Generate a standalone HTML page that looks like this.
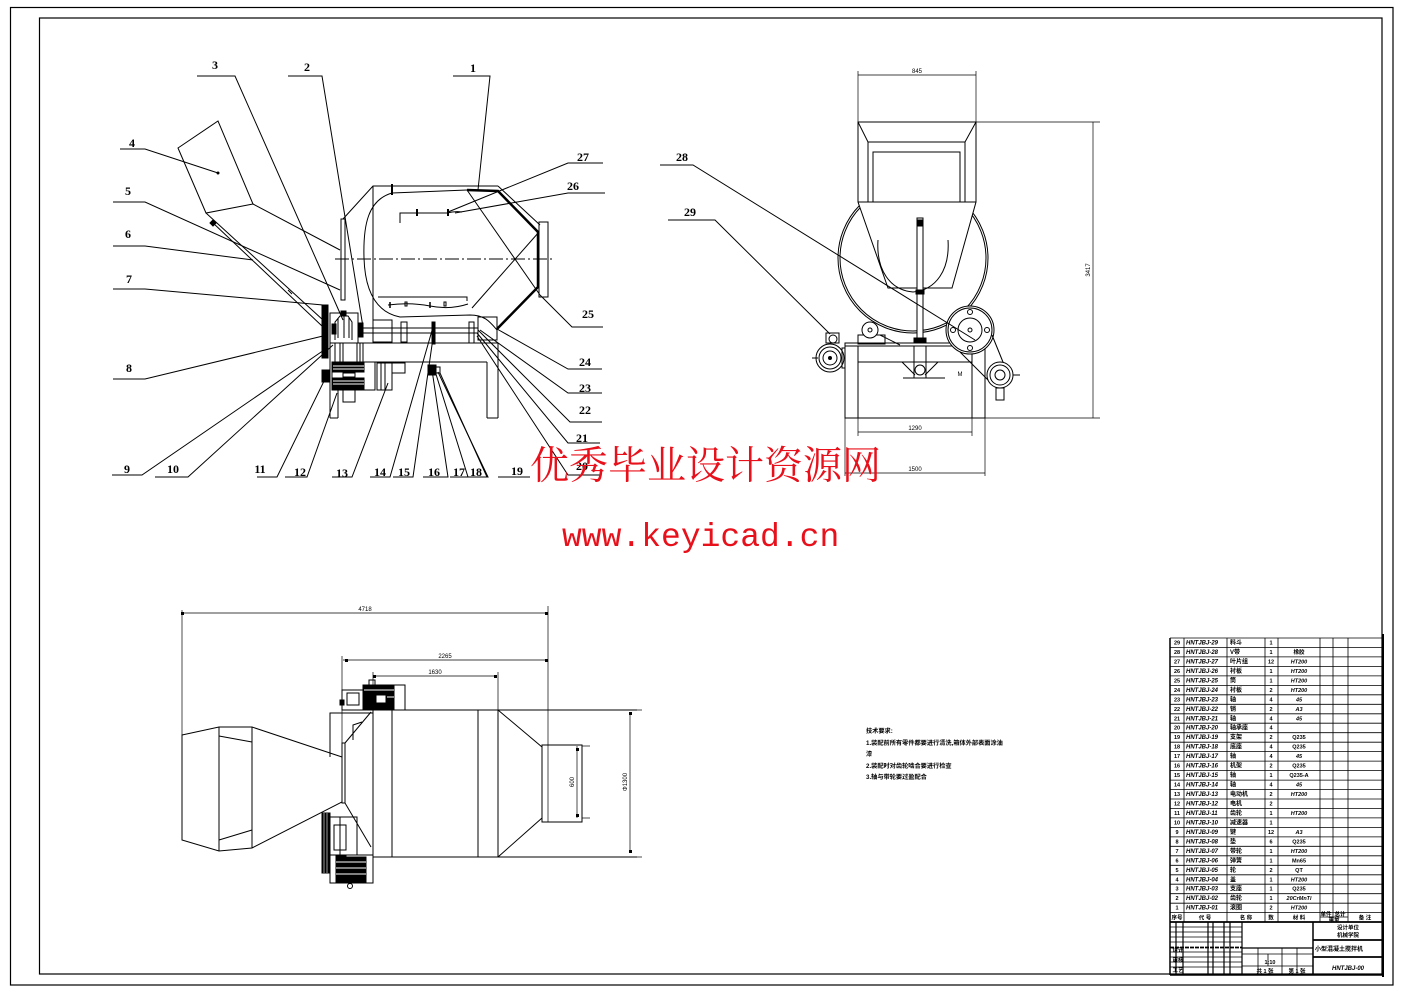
<!DOCTYPE html>
<html><head><meta charset="utf-8"><style>
html,body{margin:0;padding:0;background:#fff;}
svg{display:block;}
.n{font-family:"Liberation Serif",serif;font-weight:bold;font-size:12px;fill:#000;stroke:none;text-anchor:middle;}
.d{font-family:"Liberation Sans",sans-serif;font-size:6px;fill:#000;stroke:none;text-anchor:middle;}
.t{font-family:"Liberation Sans","Noto Sans CJK SC",sans-serif;font-weight:bold;font-size:6px;fill:#000;stroke:none;}
.tc{font-family:"Liberation Sans","Noto Sans CJK SC",sans-serif;font-weight:bold;font-size:5.5px;fill:#000;stroke:none;text-anchor:middle;}
.tn{font-family:"Liberation Sans","Noto Sans CJK SC",sans-serif;font-weight:bold;font-size:6.2px;fill:#000;stroke:none;}
</style></head><body>
<svg width="1403" height="992" viewBox="0 0 1403 992" xmlns="http://www.w3.org/2000/svg">
<rect width="1403" height="992" fill="#fff"/>
<!-- borders -->
<rect x="10.5" y="7.5" width="1382.5" height="977.5" fill="none" stroke="#000" stroke-width="1.2"/>
<rect x="39.5" y="18" width="1342.5" height="956" fill="none" stroke="#000" stroke-width="1.2"/>

<!-- ================= TOP LEFT VIEW ================= -->
<g stroke="#000" fill="none" stroke-width="1">
<!-- leaders -->
<polyline points="197,76 235,76 343,320"/>
<polyline points="288,76 322,76 363,327"/>
<polyline points="453,76 490,76 478,190"/>
<polyline points="120,149 145,149 218,173"/>
<polyline points="113,202 145,202 340,290"/>
<polyline points="113,246 145,246 253,260"/>
<polyline points="113,289 145,289 323,305"/>
<polyline points="113,379 145,379 323,336"/>
<polyline points="112,475 142,475 327,348"/>
<polyline points="155,477 188,477 333,345"/>
<polyline points="257,477 277,477 327,375"/>
<polyline points="285,477 307,477 337,393"/>
<polyline points="332,477 352,477 388,383"/>
<polyline points="370,477 390,477 433,327"/>
<polyline points="393,477 413,477 433,338"/>
<polyline points="423,477 448,477 432,370"/>
<polyline points="450,477 468,477 435,371"/>
<polyline points="468,477 488,477 438,372"/>
<polyline points="498,477 530,477"/>
<line x1="487" y1="477" x2="440" y2="373"/>
<polyline points="600,475 568,475 477,336"/>
<polyline points="600,443 568,443 477,333"/>
<polyline points="602,422 570,422 478,330"/>
<polyline points="602,393 568,393 480,330"/>
<polyline points="602,369 568,369 497,329"/>
<polyline points="603,327 572,327 540,295"/>
<polyline points="605,193 568,193 455,213"/>
<polyline points="603,163 568,163 448,212"/>

<!-- hopper 4 -->
<polygon points="178,148 218,121 253,204 206,213"/>
<circle cx="218" cy="173" r="1" fill="#000"/>
<line x1="206" y1="213" x2="323" y2="320"/>
<line x1="212" y1="222" x2="322" y2="326"/>
<path d="M210,223 l3,-3 3,3 -3,3z" fill="#000"/>
<line x1="253" y1="204" x2="340" y2="250"/>
<line x1="288" y1="290" x2="292" y2="294"/>

<!-- drum -->
<polyline points="343,219 373,186 498,186"/>
<line x1="373" y1="186" x2="373" y2="320"/>
<rect x="341" y="219" width="4" height="81"/>
<line x1="392" y1="184" x2="392" y2="195" stroke-width="2"/>
<path d="M392,193 C368,200 363,225 364,258 C365,290 375,312 400,317 L470,315 C485,315 490,322 497,330"/>
<line x1="392" y1="193" x2="467" y2="190"/>
<polyline points="467,190 498,191 538,232 538,287 497,329" stroke-width="2.5"/>
<line x1="498" y1="186" x2="540" y2="225"/>
<rect x="539" y="222" width="9" height="75"/>
<line x1="467" y1="190" x2="540" y2="295"/>
<line x1="472" y1="308" x2="539" y2="232"/>
<line x1="335" y1="259" x2="555" y2="259" stroke-dasharray="14,3,2,3"/>
<polyline points="400,223 400,213 447,213"/>
<path d="M447,213 Q455,211 462,212"/>
<line x1="417" y1="209" x2="417" y2="216" stroke-width="2"/>
<line x1="448" y1="209" x2="448" y2="216" stroke-width="2"/>
<polyline points="378,297 467,297 467,301"/>
<path d="M388,305 Q410,302 430,306 T468,304"/>
<line x1="390" y1="302" x2="390" y2="308" stroke-width="1.5"/>
<rect x="405" y="302" width="2" height="4"/>
<line x1="430" y1="302" x2="430" y2="308" stroke-width="1.5"/>
<rect x="444" y="302" width="2" height="4"/>
<!-- housing / shaft -->
<rect x="373" y="320" width="19" height="22"/>
<line x1="362" y1="328" x2="478" y2="328"/>
<line x1="362" y1="333" x2="478" y2="333"/>
<rect x="401" y="322" width="6" height="20"/>
<rect x="469" y="322" width="5" height="21"/>
<rect x="432" y="322" width="3" height="22" fill="#000"/>
<rect x="478" y="317" width="19" height="23"/>
<!-- frame -->
<line x1="330" y1="343" x2="498" y2="343"/>
<line x1="363" y1="362" x2="487" y2="362"/>
<line x1="330" y1="343" x2="330" y2="418"/>
<line x1="338" y1="390" x2="338" y2="418"/>
<line x1="330" y1="418" x2="338" y2="418"/>
<line x1="487" y1="362" x2="487" y2="418"/>
<line x1="498" y1="343" x2="498" y2="418"/>
<line x1="487" y1="418" x2="498" y2="418"/>
<!-- gear reducer -->
<rect x="330" y="313" width="28" height="30"/>
<path d="M335,340 L335,322 L340,316 L348,316 L352,322 L352,340" />
<line x1="338" y1="318" x2="338" y2="338"/>
<line x1="344" y1="316" x2="344" y2="338"/>
<line x1="349" y1="318" x2="349" y2="338"/>
<rect x="341" y="311" width="5" height="4" fill="#000"/>
<rect x="332" y="324" width="4" height="10" fill="#000"/>
<rect x="322" y="305" width="6" height="53" fill="#000"/>
<rect x="358" y="323" width="5" height="14" fill="#000"/>
<rect x="335" y="343" width="28" height="19"/>
<line x1="340" y1="343" x2="340" y2="362"/>
<line x1="343" y1="343" x2="343" y2="362"/>
<line x1="357" y1="343" x2="357" y2="362"/>
<line x1="360" y1="343" x2="360" y2="362"/>
<!-- motor -->
<rect x="332" y="362" width="43" height="28"/>
<rect x="333" y="363" width="31" height="9" fill="#000"/>
<rect x="333" y="378" width="31" height="11" fill="#000"/>
<line x1="333" y1="366" x2="364" y2="366" stroke="#fff"/>
<line x1="333" y1="369" x2="364" y2="369" stroke="#fff"/>
<line x1="333" y1="381" x2="364" y2="381" stroke="#fff"/>
<line x1="333" y1="384" x2="364" y2="384" stroke="#fff"/>
<rect x="343" y="373" width="12" height="4"/>
<rect x="343" y="390" width="12" height="12"/>
<rect x="322" y="370" width="8" height="12" fill="#000"/>
<rect x="377" y="363" width="15" height="27"/>
<line x1="381" y1="363" x2="381" y2="390"/>
<line x1="385" y1="363" x2="385" y2="390"/>
<rect x="392" y="363" width="13" height="10"/>
<rect x="428" y="365" width="8" height="10" fill="#000"/>
<rect x="436" y="367" width="4" height="6"/>
</g>
<g>
<text class="n" x="215" y="69">3</text>
<text class="n" x="307" y="71">2</text>
<text class="n" x="473" y="72">1</text>
<text class="n" x="132" y="147">4</text>
<text class="n" x="128" y="195">5</text>
<text class="n" x="128" y="238">6</text>
<text class="n" x="129" y="283">7</text>
<text class="n" x="129" y="372">8</text>
<text class="n" x="127" y="473">9</text>
<text class="n" x="173" y="473">10</text>
<text class="n" x="260" y="473">11</text>
<text class="n" x="300" y="476">12</text>
<text class="n" x="342" y="477">13</text>
<text class="n" x="380" y="476">14</text>
<text class="n" x="404" y="476">15</text>
<text class="n" x="434" y="476">16</text>
<text class="n" x="459" y="476">17</text>
<text class="n" x="476" y="476">18</text>
<text class="n" x="517" y="475">19</text>
<text class="n" x="582" y="470">20</text>
<text class="n" x="582" y="442">21</text>
<text class="n" x="585" y="414">22</text>
<text class="n" x="585" y="392">23</text>
<text class="n" x="585" y="366">24</text>
<text class="n" x="588" y="318">25</text>
<text class="n" x="573" y="190">26</text>
<text class="n" x="583" y="161">27</text>
</g>

<!-- ================= TOP RIGHT VIEW ================= -->
<g stroke="#000" fill="none" stroke-width="1">
<!-- big drum circle -->
<circle cx="913" cy="258" r="75"/>
<circle cx="913" cy="258" r="73"/>
<!-- hopper + cone (opaque) -->
<polygon points="858,122 976,122 976,202 952,288 888,288 858,202" fill="#fff"/>
<line x1="858" y1="202" x2="976" y2="202"/>
<rect x="868" y="142" width="97" height="60"/>
<rect x="873" y="152" width="87" height="50"/>
<line x1="858" y1="122" x2="868" y2="142"/>
<line x1="976" y1="122" x2="965" y2="142"/>
<path d="M878,240 C876,270 890,290 913,292 C936,290 950,270 948,240"/>
<!-- rod -->
<rect x="917" y="218" width="6" height="124" fill="#fff"/>
<rect x="917" y="220" width="5" height="6" fill="#000"/>
<rect x="916" y="290" width="8" height="4" fill="#000"/>
<!-- base frame -->
<rect x="845" y="343" width="140" height="75" fill="#fff"/>
<line x1="845" y1="346" x2="985" y2="346"/>
<line x1="858" y1="346" x2="858" y2="418"/>
<line x1="972" y1="346" x2="972" y2="418"/>
<line x1="858" y1="362" x2="972" y2="362"/>
<path d="M902,362 L915,375 M938,362 L925,375"/>
<rect x="914" y="346" width="12" height="32"/>
<circle cx="920" cy="370" r="5"/>
<rect x="914" y="338" width="12" height="5" fill="#000"/>
<line x1="903" y1="378" x2="945" y2="378"/>
<!-- small pulley left top -->
<rect x="858" y="335" width="27" height="9"/>
<circle cx="870" cy="330" r="8" fill="#fff"/>
<circle cx="870" cy="330" r="2"/>
<line x1="880" y1="335" x2="900" y2="345"/>
<!-- left wheel -->
<rect x="826" y="333" width="13" height="10"/>
<circle cx="833" cy="339" r="4"/>
<circle cx="830" cy="358" r="14" fill="#fff"/>
<circle cx="830" cy="358" r="11"/>
<circle cx="830" cy="358" r="7"/>
<circle cx="830" cy="358" r="1.5" fill="#000"/>
<line x1="812" y1="358" x2="818" y2="358"/>
<rect x="842" y="348" width="3" height="20"/>
<!-- right big pulley -->
<circle cx="970" cy="330" r="24" fill="#fff"/>
<circle cx="970" cy="330" r="22"/>
<circle cx="970" cy="330" r="12"/>
<circle cx="970" cy="330" r="2"/>
<circle cx="970" cy="312" r="2.5"/>
<circle cx="970" cy="348" r="2.5"/>
<circle cx="953" cy="330" r="2.5"/>
<circle cx="987" cy="330" r="2.5"/>
<line x1="992" y1="335" x2="1005" y2="367"/>
<line x1="960" y1="352" x2="992" y2="384"/>
<!-- right small wheel -->
<circle cx="1000" cy="375" r="13" fill="#fff"/>
<circle cx="1000" cy="375" r="10"/>
<circle cx="1000" cy="375" r="5"/>
<line x1="1013" y1="375" x2="1020" y2="375"/>
<rect x="996" y="388" width="8" height="12"/>
<!-- leaders -->
<polyline points="660,165 693,165 975,340"/>
<polyline points="668,220 715,220 830,334"/>
<!-- dims -->
<line x1="858" y1="75" x2="976" y2="75" stroke-width="0.7"/>
<line x1="858" y1="71" x2="858" y2="122" stroke-width="0.7"/>
<line x1="976" y1="71" x2="976" y2="122" stroke-width="0.7"/>
<line x1="976" y1="122" x2="1100" y2="122" stroke-width="0.7"/>
<line x1="985" y1="418" x2="1100" y2="418" stroke-width="0.7"/>
<line x1="1093" y1="122" x2="1093" y2="418" stroke-width="0.7"/>
<line x1="858" y1="418" x2="858" y2="436" stroke-width="0.7"/>
<line x1="972" y1="418" x2="972" y2="436" stroke-width="0.7"/>
<line x1="858" y1="432" x2="972" y2="432" stroke-width="0.7"/>
<line x1="845" y1="418" x2="845" y2="476" stroke-width="0.7"/>
<line x1="985" y1="418" x2="985" y2="476" stroke-width="0.7"/>
<line x1="845" y1="473" x2="985" y2="473" stroke-width="0.7"/>
</g>
<text class="n" x="682" y="161">28</text>
<text class="n" x="690" y="216">29</text>
<text class="d" x="917" y="73">845</text>
<text class="d" x="915" y="430">1290</text>
<text class="d" x="915" y="471">1500</text>
<text class="d" x="960" y="376">M</text>
<text class="d" transform="translate(1090,270) rotate(-90)">3417</text>

<!-- ================= BOTTOM VIEW ================= -->
<g stroke="#000" fill="none" stroke-width="1">
<!-- dims -->
<line x1="182" y1="613" x2="547" y2="613" stroke-width="0.7"/>
<line x1="182" y1="610" x2="182" y2="840" stroke-width="0.7"/>
<line x1="548" y1="606" x2="548" y2="822" stroke-width="0.7"/>
<line x1="343" y1="660" x2="547" y2="660" stroke-width="0.7"/>
<line x1="342" y1="656" x2="342" y2="760" stroke-width="0.7"/>
<line x1="373" y1="676" x2="497" y2="676" stroke-width="0.7"/>
<line x1="373" y1="672" x2="373" y2="690" stroke-width="0.7"/>
<line x1="498" y1="672" x2="498" y2="712" stroke-width="0.7"/>
<line x1="577" y1="746" x2="577" y2="818" stroke-width="0.7"/>
<line x1="630" y1="713" x2="630" y2="853" stroke-width="0.7"/>
<line x1="582" y1="746" x2="590" y2="746" stroke-width="0.7"/>
<line x1="582" y1="818" x2="590" y2="818" stroke-width="0.7"/>
<line x1="637" y1="710" x2="642" y2="710" stroke-width="0.7"/>
<line x1="637" y1="857" x2="642" y2="857" stroke-width="0.7"/>
<!-- hopper -->
<polygon points="182,735 219,727 252,727 342,757 342,802 252,848 219,851 182,840"/>
<line x1="219" y1="727" x2="219" y2="851"/>
<line x1="252" y1="727" x2="252" y2="848"/>
<line x1="219" y1="736" x2="252" y2="742"/>
<line x1="219" y1="840" x2="252" y2="830"/>
<!-- flange + face -->
<rect x="342" y="743" width="3" height="60"/>
<line x1="345" y1="743" x2="371" y2="712"/>
<line x1="345" y1="803" x2="371" y2="847"/>
<polyline points="330,757 330,713 373,713"/>
<polyline points="353,740 353,725 362,722"/>
<!-- drum -->
<line x1="368" y1="710" x2="637" y2="710"/>
<line x1="373" y1="857" x2="637" y2="857"/>
<line x1="373" y1="710" x2="373" y2="857"/>
<line x1="392" y1="710" x2="392" y2="857"/>
<line x1="478" y1="710" x2="478" y2="857"/>
<line x1="498" y1="710" x2="498" y2="857"/>
<line x1="498" y1="710" x2="542" y2="747"/>
<line x1="498" y1="857" x2="542" y2="818"/>
<rect x="542" y="745" width="40" height="77"/>
<!-- top motor -->
<rect x="342" y="690" width="25" height="20"/>
<rect x="347" y="693" width="12" height="12"/>
<rect x="340" y="700" width="4" height="5" fill="#000"/>
<rect x="363" y="685" width="42" height="25"/>
<rect x="364" y="686" width="30" height="23" fill="#000"/>
<rect x="376" y="695" width="10" height="8" fill="#fff"/>
<line x1="364" y1="690" x2="394" y2="690" stroke="#fff"/>
<line x1="387" y1="697" x2="394" y2="697" stroke="#fff"/>
<rect x="369" y="680" width="6" height="5"/>
<!-- bottom motor -->
<rect x="330" y="817" width="27" height="38"/>
<rect x="334" y="825" width="12" height="25"/>
<line x1="340" y1="817" x2="340" y2="855"/>
<rect x="322" y="813" width="8" height="60" fill="#000"/>
<line x1="324" y1="813" x2="324" y2="873" stroke="#fff" stroke-width="0.6"/>
<line x1="327" y1="813" x2="327" y2="873" stroke="#fff" stroke-width="0.6"/>
<rect x="330" y="855" width="43" height="28"/>
<rect x="336" y="857" width="30" height="25" fill="#000"/>
<line x1="336" y1="862" x2="366" y2="862" stroke="#fff"/>
<line x1="336" y1="868" x2="366" y2="868" stroke="#fff"/>
<line x1="336" y1="874" x2="366" y2="874" stroke="#fff"/>
<rect x="336" y="855" width="10" height="4" fill="#000"/>
<circle cx="350" cy="886" r="2.5"/>
</g>
<g fill="#000">
<rect x="181" y="612" width="3" height="3"/><rect x="545" y="612" width="3" height="3"/>
<rect x="345" y="659" width="3" height="3"/><rect x="545" y="659" width="3" height="3"/>
<rect x="373" y="675" width="3" height="3"/><rect x="494" y="675" width="3" height="3"/>
<rect x="576" y="748" width="3" height="3"/><rect x="576" y="814" width="3" height="3"/>
<rect x="629" y="712" width="3" height="3"/><rect x="629" y="850" width="3" height="3"/>
</g>
<text class="d" x="365" y="611">4718</text>
<text class="d" x="445" y="658">2265</text>
<text class="d" x="435" y="674">1630</text>
<text class="d" transform="translate(574,782) rotate(-90)">600</text>
<text class="d" transform="translate(627,782) rotate(-90)">Φ1300</text>

<!-- ================= NOTES ================= -->
<text class="tn" x="866" y="733">技术要求:</text>
<text class="tn" x="866" y="745">1.装配前所有零件都要进行清洗,箱体外部表面涂油</text>
<text class="tn" x="866" y="756">漆</text>
<text class="tn" x="866" y="768">2.装配时对齿轮啮合要进行检查</text>
<text class="tn" x="866" y="779">3.轴与带轮要过盈配合</text>

<!-- ================= TITLE BLOCK ================= -->
<g stroke="#000" fill="none" stroke-width="0.8">
<line x1="1170" y1="638" x2="1383" y2="638"/>
<line x1="1170" y1="647.5" x2="1383" y2="647.5"/>
<line x1="1170" y1="656.9" x2="1383" y2="656.9"/>
<line x1="1170" y1="666.4" x2="1383" y2="666.4"/>
<line x1="1170" y1="675.9" x2="1383" y2="675.9"/>
<line x1="1170" y1="685.4" x2="1383" y2="685.4"/>
<line x1="1170" y1="694.8" x2="1383" y2="694.8"/>
<line x1="1170" y1="704.3" x2="1383" y2="704.3"/>
<line x1="1170" y1="713.8" x2="1383" y2="713.8"/>
<line x1="1170" y1="723.2" x2="1383" y2="723.2"/>
<line x1="1170" y1="732.7" x2="1383" y2="732.7"/>
<line x1="1170" y1="742.2" x2="1383" y2="742.2"/>
<line x1="1170" y1="751.6" x2="1383" y2="751.6"/>
<line x1="1170" y1="761.1" x2="1383" y2="761.1"/>
<line x1="1170" y1="770.6" x2="1383" y2="770.6"/>
<line x1="1170" y1="780.1" x2="1383" y2="780.1"/>
<line x1="1170" y1="789.5" x2="1383" y2="789.5"/>
<line x1="1170" y1="799.0" x2="1383" y2="799.0"/>
<line x1="1170" y1="808.5" x2="1383" y2="808.5"/>
<line x1="1170" y1="817.9" x2="1383" y2="817.9"/>
<line x1="1170" y1="827.4" x2="1383" y2="827.4"/>
<line x1="1170" y1="836.9" x2="1383" y2="836.9"/>
<line x1="1170" y1="846.3" x2="1383" y2="846.3"/>
<line x1="1170" y1="855.8" x2="1383" y2="855.8"/>
<line x1="1170" y1="865.3" x2="1383" y2="865.3"/>
<line x1="1170" y1="874.8" x2="1383" y2="874.8"/>
<line x1="1170" y1="884.2" x2="1383" y2="884.2"/>
<line x1="1170" y1="893.7" x2="1383" y2="893.7"/>
<line x1="1170" y1="903.2" x2="1383" y2="903.2"/>
<line x1="1170" y1="912.6" x2="1383" y2="912.6"/>
<line x1="1184" y1="638" x2="1184" y2="922"/>
<line x1="1227" y1="638" x2="1227" y2="922"/>
<line x1="1265" y1="638" x2="1265" y2="922"/>
<line x1="1278" y1="638" x2="1278" y2="922"/>
<line x1="1320" y1="638" x2="1320" y2="922"/>
<line x1="1333" y1="638" x2="1333" y2="922"/>
<line x1="1348" y1="638" x2="1348" y2="922"/>
<line x1="1320" y1="917" x2="1348" y2="917"/>
<!-- lower block -->
<line x1="1170" y1="922" x2="1383" y2="922" stroke-width="1.8"/>
<line x1="1313" y1="922" x2="1313" y2="975" stroke-width="1.5"/>
<line x1="1242" y1="922" x2="1242" y2="975" stroke-width="1.2"/>
<line x1="1313" y1="940" x2="1383" y2="940" stroke-width="1.8"/>
<line x1="1313" y1="957" x2="1383" y2="957" stroke-width="1.8"/>
<line x1="1242" y1="948" x2="1313" y2="948" stroke-width="1.2"/>
<line x1="1242" y1="954" x2="1313" y2="954"/>
<line x1="1242" y1="966" x2="1313" y2="966"/>
<line x1="1258" y1="948" x2="1258" y2="975"/>
<line x1="1268" y1="954" x2="1268" y2="966"/>
<line x1="1282" y1="948" x2="1282" y2="975"/>
<line x1="1297" y1="948" x2="1297" y2="975"/>
<line x1="1176" y1="922" x2="1176" y2="975" stroke-width="1.2"/>
<line x1="1183" y1="922" x2="1183" y2="975" stroke-width="1.2"/>
<line x1="1208" y1="922" x2="1208" y2="975" stroke-width="1.2"/>
<line x1="1213" y1="922" x2="1213" y2="975" stroke-width="1.2"/>
<line x1="1224" y1="922" x2="1224" y2="975" stroke-width="1.2"/>
<line x1="1230" y1="922" x2="1230" y2="975" stroke-width="1.2"/>
<line x1="1170" y1="927" x2="1242" y2="927"/>
<line x1="1170" y1="932" x2="1242" y2="932"/>
<line x1="1170" y1="937" x2="1242" y2="937"/>
<line x1="1170" y1="942" x2="1242" y2="942"/>
<line x1="1170" y1="947.5" x2="1242" y2="947.5" stroke-width="1.8" stroke-dasharray="4,1"/>
<line x1="1170" y1="952" x2="1242" y2="952"/>
<line x1="1170" y1="957" x2="1242" y2="957"/>
<line x1="1170" y1="962" x2="1242" y2="962"/>
<line x1="1170" y1="967" x2="1242" y2="967"/>
<line x1="1170" y1="975" x2="1383" y2="975" stroke-width="1.5"/>
<line x1="1170" y1="638" x2="1170" y2="975" stroke-width="1.5"/>
<line x1="1383" y1="634" x2="1383" y2="977" stroke-width="2"/>
</g>
<g>
<text class="tc" x="1177" y="644.5">29</text><text class="t" x="1186" y="644.5" font-style="italic">HNTJBJ-29</text><text class="t" x="1230" y="644.5">料斗</text><text class="tc" x="1271" y="644.5">1</text><text class="tc" x="1299" y="644.5"></text>
<text class="tc" x="1177" y="654">28</text><text class="t" x="1186" y="654" font-style="italic">HNTJBJ-28</text><text class="t" x="1230" y="654">V带</text><text class="tc" x="1271" y="654">1</text><text class="tc" x="1299" y="654">橡胶</text>
<text class="tc" x="1177" y="663.4">27</text><text class="t" x="1186" y="663.4" font-style="italic">HNTJBJ-27</text><text class="t" x="1230" y="663.4">叶片组</text><text class="tc" x="1271" y="663.4">12</text><text class="tc" x="1299" y="663.4" font-style="italic">HT200</text>
<text class="tc" x="1177" y="672.9">26</text><text class="t" x="1186" y="672.9" font-style="italic">HNTJBJ-26</text><text class="t" x="1230" y="672.9">衬板</text><text class="tc" x="1271" y="672.9">1</text><text class="tc" x="1299" y="672.9" font-style="italic">HT200</text>
<text class="tc" x="1177" y="682.4">25</text><text class="t" x="1186" y="682.4" font-style="italic">HNTJBJ-25</text><text class="t" x="1230" y="682.4">筒</text><text class="tc" x="1271" y="682.4">1</text><text class="tc" x="1299" y="682.4" font-style="italic">HT200</text>
<text class="tc" x="1177" y="691.9">24</text><text class="t" x="1186" y="691.9" font-style="italic">HNTJBJ-24</text><text class="t" x="1230" y="691.9">衬板</text><text class="tc" x="1271" y="691.9">2</text><text class="tc" x="1299" y="691.9" font-style="italic">HT200</text>
<text class="tc" x="1177" y="701.3">23</text><text class="t" x="1186" y="701.3" font-style="italic">HNTJBJ-23</text><text class="t" x="1230" y="701.3">轴</text><text class="tc" x="1271" y="701.3">4</text><text class="tc" x="1299" y="701.3" font-style="italic">45</text>
<text class="tc" x="1177" y="710.8">22</text><text class="t" x="1186" y="710.8" font-style="italic">HNTJBJ-22</text><text class="t" x="1230" y="710.8">销</text><text class="tc" x="1271" y="710.8">2</text><text class="tc" x="1299" y="710.8" font-style="italic">A3</text>
<text class="tc" x="1177" y="720.3">21</text><text class="t" x="1186" y="720.3" font-style="italic">HNTJBJ-21</text><text class="t" x="1230" y="720.3">轴</text><text class="tc" x="1271" y="720.3">4</text><text class="tc" x="1299" y="720.3" font-style="italic">45</text>
<text class="tc" x="1177" y="729.7">20</text><text class="t" x="1186" y="729.7" font-style="italic">HNTJBJ-20</text><text class="t" x="1230" y="729.7">轴承座</text><text class="tc" x="1271" y="729.7">4</text>
<text class="tc" x="1177" y="739.2">19</text><text class="t" x="1186" y="739.2" font-style="italic">HNTJBJ-19</text><text class="t" x="1230" y="739.2">支架</text><text class="tc" x="1271" y="739.2">2</text><text class="tc" x="1299" y="739.2">Q235</text>
<text class="tc" x="1177" y="748.7">18</text><text class="t" x="1186" y="748.7" font-style="italic">HNTJBJ-18</text><text class="t" x="1230" y="748.7">底座</text><text class="tc" x="1271" y="748.7">4</text><text class="tc" x="1299" y="748.7">Q235</text>
<text class="tc" x="1177" y="758.1">17</text><text class="t" x="1186" y="758.1" font-style="italic">HNTJBJ-17</text><text class="t" x="1230" y="758.1">轴</text><text class="tc" x="1271" y="758.1">4</text><text class="tc" x="1299" y="758.1" font-style="italic">45</text>
<text class="tc" x="1177" y="767.6">16</text><text class="t" x="1186" y="767.6" font-style="italic">HNTJBJ-16</text><text class="t" x="1230" y="767.6">机架</text><text class="tc" x="1271" y="767.6">2</text><text class="tc" x="1299" y="767.6">Q235</text>
<text class="tc" x="1177" y="777.1">15</text><text class="t" x="1186" y="777.1" font-style="italic">HNTJBJ-15</text><text class="t" x="1230" y="777.1">轴</text><text class="tc" x="1271" y="777.1">1</text><text class="tc" x="1299" y="777.1">Q235-A</text>
<text class="tc" x="1177" y="786.6">14</text><text class="t" x="1186" y="786.6" font-style="italic">HNTJBJ-14</text><text class="t" x="1230" y="786.6">轴</text><text class="tc" x="1271" y="786.6">4</text><text class="tc" x="1299" y="786.6" font-style="italic">45</text>
<text class="tc" x="1177" y="796">13</text><text class="t" x="1186" y="796" font-style="italic">HNTJBJ-13</text><text class="t" x="1230" y="796">电动机</text><text class="tc" x="1271" y="796">2</text><text class="tc" x="1299" y="796" font-style="italic">HT200</text>
<text class="tc" x="1177" y="805.5">12</text><text class="t" x="1186" y="805.5" font-style="italic">HNTJBJ-12</text><text class="t" x="1230" y="805.5">电机</text><text class="tc" x="1271" y="805.5">2</text>
<text class="tc" x="1177" y="815">11</text><text class="t" x="1186" y="815" font-style="italic">HNTJBJ-11</text><text class="t" x="1230" y="815">齿轮</text><text class="tc" x="1271" y="815">1</text><text class="tc" x="1299" y="815" font-style="italic">HT200</text>
<text class="tc" x="1177" y="824.4">10</text><text class="t" x="1186" y="824.4" font-style="italic">HNTJBJ-10</text><text class="t" x="1230" y="824.4">减速器</text><text class="tc" x="1271" y="824.4">1</text>
<text class="tc" x="1177" y="833.9">9</text><text class="t" x="1186" y="833.9" font-style="italic">HNTJBJ-09</text><text class="t" x="1230" y="833.9">键</text><text class="tc" x="1271" y="833.9">12</text><text class="tc" x="1299" y="833.9" font-style="italic">A3</text>
<text class="tc" x="1177" y="843.4">8</text><text class="t" x="1186" y="843.4" font-style="italic">HNTJBJ-08</text><text class="t" x="1230" y="843.4">垫</text><text class="tc" x="1271" y="843.4">6</text><text class="tc" x="1299" y="843.4">Q235</text>
<text class="tc" x="1177" y="852.8">7</text><text class="t" x="1186" y="852.8" font-style="italic">HNTJBJ-07</text><text class="t" x="1230" y="852.8">带轮</text><text class="tc" x="1271" y="852.8">1</text><text class="tc" x="1299" y="852.8" font-style="italic">HT200</text>
<text class="tc" x="1177" y="862.3">6</text><text class="t" x="1186" y="862.3" font-style="italic">HNTJBJ-06</text><text class="t" x="1230" y="862.3">弹簧</text><text class="tc" x="1271" y="862.3">1</text><text class="tc" x="1299" y="862.3">Mn65</text>
<text class="tc" x="1177" y="871.8">5</text><text class="t" x="1186" y="871.8" font-style="italic">HNTJBJ-05</text><text class="t" x="1230" y="871.8">轮</text><text class="tc" x="1271" y="871.8">2</text><text class="tc" x="1299" y="871.8">QT</text>
<text class="tc" x="1177" y="881.3">4</text><text class="t" x="1186" y="881.3" font-style="italic">HNTJBJ-04</text><text class="t" x="1230" y="881.3">盖</text><text class="tc" x="1271" y="881.3">1</text><text class="tc" x="1299" y="881.3" font-style="italic">HT200</text>
<text class="tc" x="1177" y="890.7">3</text><text class="t" x="1186" y="890.7" font-style="italic">HNTJBJ-03</text><text class="t" x="1230" y="890.7">支座</text><text class="tc" x="1271" y="890.7">1</text><text class="tc" x="1299" y="890.7">Q235</text>
<text class="tc" x="1177" y="900.2">2</text><text class="t" x="1186" y="900.2" font-style="italic">HNTJBJ-02</text><text class="t" x="1230" y="900.2">齿轮</text><text class="tc" x="1271" y="900.2">1</text><text class="tc" x="1299" y="900.2" font-style="italic">20CrMnTi</text>
<text class="tc" x="1177" y="909.7">1</text><text class="t" x="1186" y="909.7" font-style="italic">HNTJBJ-01</text><text class="t" x="1230" y="909.7">滚圈</text><text class="tc" x="1271" y="909.7">2</text><text class="tc" x="1299" y="909.7" font-style="italic">HT200</text>
<text class="tc" x="1177" y="919.5">序号</text><text class="tc" x="1205" y="919.5">代 号</text><text class="tc" x="1246" y="919.5">名 称</text><text class="tc" x="1271" y="919.5">数</text><text class="tc" x="1299" y="919.5">材 料</text>
<text class="tc" x="1326" y="916" font-size="4">单件</text><text class="tc" x="1340" y="916" font-size="4">总计</text><text class="tc" x="1334" y="921.5" font-size="4">重量</text><text class="tc" x="1365" y="919.5">备 注</text>
<text class="tc" x="1348" y="929.5">设计单位</text>
<text class="tc" x="1348" y="937">机械学院</text>
<text class="t" x="1315" y="951" font-size="6.5">小型混凝土搅拌机</text>
<text class="t" x="1332" y="970" font-size="8" font-style="italic">HNTJBJ-00</text>
<text class="tc" x="1270" y="964" font-size="4">1:10</text>
<text class="tc" x="1265" y="973" font-size="4">共 1 张</text>
<text class="tc" x="1297" y="973" font-size="4">第 1 张</text>
<text class="tc" x="1178" y="952" font-size="4">设计</text>
<text class="tc" x="1178" y="962" font-size="4">审核</text>
<text class="tc" x="1178" y="972" font-size="4">工艺</text>
</g>

<!-- ================= WATERMARK ================= -->
<text x="530" y="479" font-family="'Noto Serif CJK SC','Liberation Serif',serif" font-size="39" fill="#e8101a">优秀毕业设计资源网</text>
<text x="562" y="546" font-family="'Liberation Mono',monospace" font-size="33" fill="#e8101a">www.keyicad.cn</text>
</svg>
</body></html>
